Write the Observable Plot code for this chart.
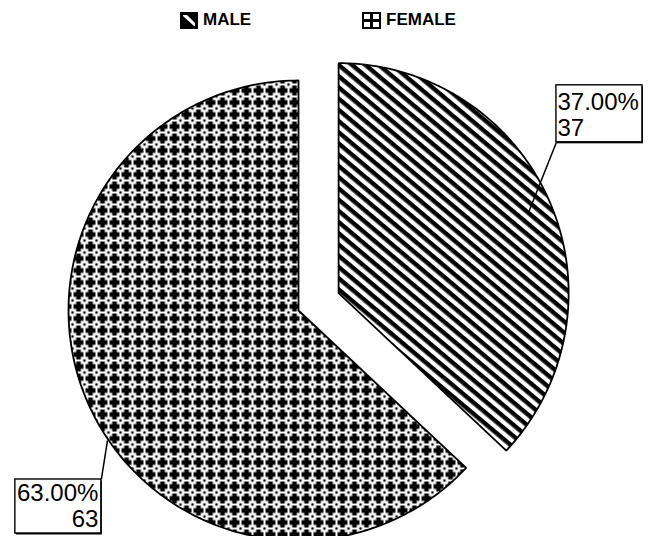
<!DOCTYPE html>
<html>
<head>
<meta charset="utf-8">
<script src="https://cdn.jsdelivr.net/npm/d3@7"></script>
<script src="https://cdn.jsdelivr.net/npm/@observablehq/plot@0.6"></script>
<style>
  body { margin: 0; background: #fff; font-family: "Liberation Sans", Arial, sans-serif; }
  #legend { position: relative; width: 651px; height: 36px; }
  .item { position: absolute; top: 11px; height: 18px; display: flex; align-items: center; gap: 5px;
          font-weight: bold; font-size: 17px; line-height: 18px; color: #000; }
  .item svg { display: block; }
  #chart svg { display: block; }
</style>
</head>
<body>
<div id="legend"></div>
<div id="chart"></div>
<script>
// ---- data ----
const categories = ["MALE", "FEMALE"];
const counts = [37, 63];
const percentLabels = ["37.00%", "63.00%"];
const countLabels = ["37", "63"];

// ---- layout ----
const W = 651, LEGEND_H = 36, H = 536 - LEGEND_H;
const PX = 230;                    // pixels per pie radius
const CX = 298, CY = 310 - LEGEND_H;
const xDomain = [-CX / PX, (W - CX) / PX];
const yDomain = [(CY - H) / PX, CY / PX];
const legendLeft = {MALE: 180, FEMALE: 362};

const style = {
  MALE:   {fill: "url(#pat-male)", explode: 0.19, boxAngle: 55.3, boxR: 1.152, tipAngle: 67.0, tipR: 0.897,
           boxW: 86, boxH: 57, corner: "bl", textAnchor: "start", textDx: 1},
  FEMALE: {fill: "url(#pat-female)", explode: 0, boxAngle: 229.4, boxR: 1.129, tipAngle: 235.8, tipR: 1.004,
           boxW: 86, boxH: 54, corner: "tr", textAnchor: "end", textDx: -3}
};

// ---- legend (HTML, above the plot) ----
const icons = {
  MALE: `<svg width="18" height="17" viewBox="0 0 18 17">
           <rect x="1" y="1" width="16" height="15" fill="black" stroke="black" stroke-width="2"/>
           <polygon points="3,4 3,3 7,3 15,11 15,14 14,14" fill="white"/>
         </svg>`,
  FEMALE: `<svg width="19" height="17" viewBox="0 0 19 17">
           <rect x="1" y="1" width="17" height="15" fill="white" stroke="black" stroke-width="2"/>
           <rect x="2" y="7" width="15" height="3" fill="black"/>
           <rect x="8" y="2" width="3" height="13" fill="black"/>
         </svg>`
};
const legend = document.getElementById("legend");
categories.forEach(name => {
  const d = document.createElement("div");
  d.className = "item";
  d.style.left = legendLeft[name] + "px";
  d.innerHTML = icons[name] + `<span>${name}</span>`;
  legend.appendChild(d);
});

// ---- geometry from data ----
const arcs = d3.pie().sort(null).startAngle(0).endAngle(2 * Math.PI)(counts);
const polar = (a, r) => [r * Math.sin(a), r * Math.cos(a)];
const rad = d => d * Math.PI / 180;

const slices = categories.map((name, i) => {
  const a = arcs[i], s = style[name];
  const mid = (a.startAngle + a.endAngle) / 2;
  const [ox, oy] = polar(mid, s.explode);
  const pts = [{x: ox, y: oy}];
  const N = 200;
  for (let k = 0; k <= N; ++k) {
    const t = a.startAngle + (a.endAngle - a.startAngle) * k / N;
    const [px, py] = polar(t, 1);
    pts.push({x: ox + px, y: oy + py});
  }
  pts.push({x: ox, y: oy});
  const [bx, by] = polar(rad(s.boxAngle), s.boxR);
  const [tx, ty] = polar(rad(s.tipAngle), s.tipR);
  const cx = ox + bx, cy = oy + by;
  const w = s.boxW / PX, h = s.boxH / PX;
  const box = s.corner === "bl"
    ? {x1: cx, x2: cx + w, y1: cy, y2: cy + h}
    : {x1: cx - w, x2: cx, y1: cy - h, y2: cy};
  return {
    name, pts, s,
    box,
    link: {x1: cx, y1: cy, x2: ox + tx, y2: oy + ty},
    label: {x: s.textAnchor === "start" ? box.x1 : box.x2, y: box.y1,
            text: percentLabels[i] + "\n" + countLabels[i]}
  };
});

const marks = [];
slices.forEach(sl => {
  marks.push(Plot.line(sl.pts, {x: "x", y: "y", fill: sl.s.fill, stroke: "black", strokeWidth: 1.8, strokeLinejoin: "miter"}));
});
slices.forEach(sl => {
  marks.push(Plot.rect([sl.box], {x1: "x1", x2: "x2", y1: "y1", y2: "y2", fill: "black", dx: 1, dy: 1.5}));
  marks.push(Plot.rect([sl.box], {x1: "x1", x2: "x2", y1: "y1", y2: "y2", fill: "white", stroke: "black", strokeWidth: 1.4}));
  marks.push(Plot.link([sl.link], {x1: "x1", y1: "y1", x2: "x2", y2: "y2", stroke: "black", strokeWidth: 1.5}));
  marks.push(Plot.text([sl.label], {x: "x", y: "y", text: "text", textAnchor: sl.s.textAnchor,
    lineAnchor: "bottom", lineHeight: 26 / 24, fontSize: 24, dx: sl.s.textDx, dy: -6.5, fill: "black",
    fontFamily: "Liberation Sans, Arial, sans-serif"}));
});

const chart = Plot.plot({
  width: W, height: H, margin: 0,
  x: {domain: xDomain, axis: null},
  y: {domain: yDomain, axis: null},
  style: {background: "white", fontFamily: "Liberation Sans, Arial, sans-serif", overflow: "visible"},
  marks
});

// pattern fills
function plus(cx, cy, a, w) {
  return `<rect x="${cx - a}" y="${cy - w}" width="${2 * a}" height="${2 * w}"/>` +
         `<rect x="${cx - w}" y="${cy - a}" width="${2 * w}" height="${2 * a}"/>`;
}
const femaleG = plus(6, 6, 5, 2.3) +
  [[0, 0], [12, 0], [0, 12], [12, 12]].map(([x, y]) => `<rect x="${x - 1.2}" y="${y - 1.2}" width="2.4" height="2.4"/>`).join("");
chart.insertAdjacentHTML("afterbegin", `
<defs>
  <pattern id="pat-male" patternUnits="userSpaceOnUse" width="12" height="8.6" patternTransform="rotate(40)">
    <rect width="12" height="8.6" fill="white"/>
    <rect width="12" height="4.4" fill="black"/>
  </pattern>
  <pattern id="pat-female" patternUnits="userSpaceOnUse" width="12" height="12">
    <rect width="12" height="12" fill="white"/>
    <g fill="black">${femaleG}</g>
  </pattern>
</defs>`);

document.getElementById("chart").appendChild(chart);
</script>
</body>
</html>
